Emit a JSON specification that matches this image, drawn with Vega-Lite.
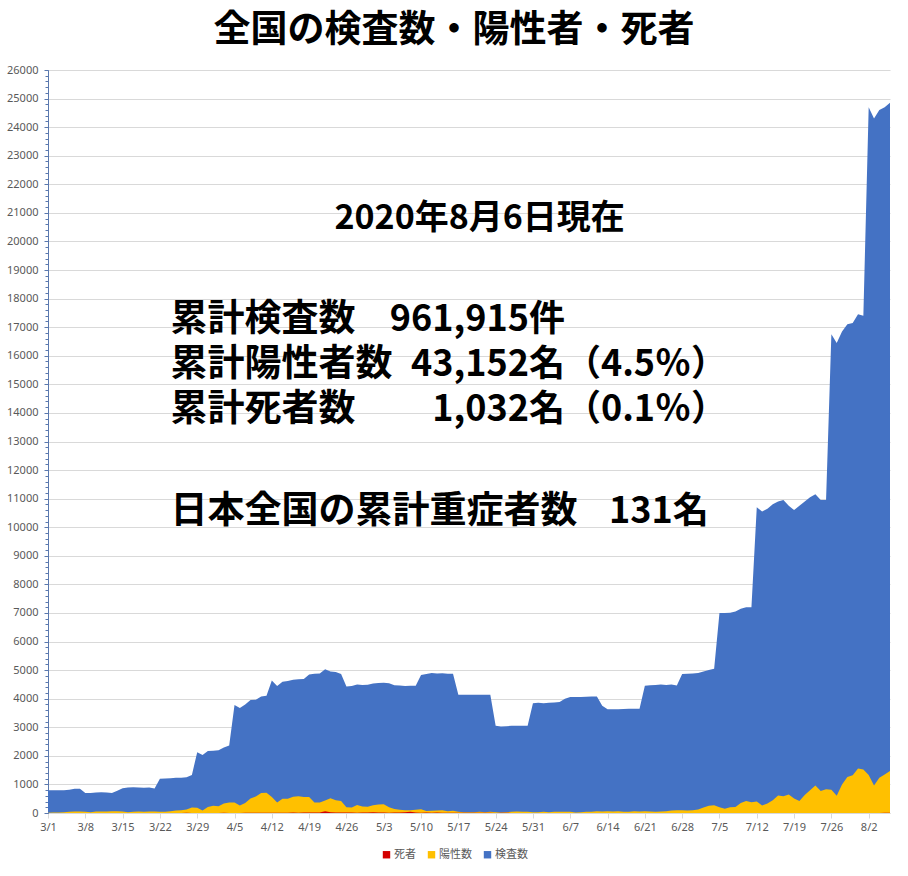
{
  "$schema": "https://vega.github.io/schema/vega-lite/v6.json",
  "width": 842,
  "height": 743,
  "autosize": {"type": "none"},
  "padding": {"left": 48, "top": 70, "right": 18, "bottom": 63},
  "background": "white",
  "title": {"text": "全国の検査数・陽性者・死者", "font": "Noto Sans CJK JP", "fontSize": 37, "fontWeight": "bold", "color": "#000000", "anchor": "middle", "offset": 14, "dx": -15},
  "config": {"view": {"stroke": null}, "axisX": {"labelOverlap": false, "labelFlush": false}},
  "datasets": {
    "daily": [
    {"date":"2020-03-01","tests":800,"positive":10,"deaths":0},
    {"date":"2020-03-02","tests":800,"positive":15,"deaths":0},
    {"date":"2020-03-03","tests":800,"positive":20,"deaths":1},
    {"date":"2020-03-04","tests":800,"positive":30,"deaths":0},
    {"date":"2020-03-05","tests":810,"positive":40,"deaths":1},
    {"date":"2020-03-06","tests":850,"positive":55,"deaths":1},
    {"date":"2020-03-07","tests":850,"positive":50,"deaths":0},
    {"date":"2020-03-08","tests":700,"positive":40,"deaths":1},
    {"date":"2020-03-09","tests":700,"positive":30,"deaths":2},
    {"date":"2020-03-10","tests":720,"positive":50,"deaths":1},
    {"date":"2020-03-11","tests":730,"positive":55,"deaths":2},
    {"date":"2020-03-12","tests":720,"positive":55,"deaths":1},
    {"date":"2020-03-13","tests":700,"positive":60,"deaths":1},
    {"date":"2020-03-14","tests":780,"positive":60,"deaths":2},
    {"date":"2020-03-15","tests":870,"positive":55,"deaths":0},
    {"date":"2020-03-16","tests":890,"positive":30,"deaths":1},
    {"date":"2020-03-17","tests":900,"positive":40,"deaths":2},
    {"date":"2020-03-18","tests":890,"positive":50,"deaths":1},
    {"date":"2020-03-19","tests":880,"positive":45,"deaths":1},
    {"date":"2020-03-20","tests":890,"positive":50,"deaths":1},
    {"date":"2020-03-21","tests":860,"positive":55,"deaths":1},
    {"date":"2020-03-22","tests":1200,"positive":40,"deaths":2},
    {"date":"2020-03-23","tests":1210,"positive":40,"deaths":1},
    {"date":"2020-03-24","tests":1220,"positive":60,"deaths":2},
    {"date":"2020-03-25","tests":1230,"positive":90,"deaths":3},
    {"date":"2020-03-26","tests":1230,"positive":100,"deaths":2},
    {"date":"2020-03-27","tests":1250,"positive":120,"deaths":5},
    {"date":"2020-03-28","tests":1330,"positive":190,"deaths":2},
    {"date":"2020-03-29","tests":2130,"positive":180,"deaths":2},
    {"date":"2020-03-30","tests":2030,"positive":90,"deaths":3},
    {"date":"2020-03-31","tests":2170,"positive":210,"deaths":3},
    {"date":"2020-04-01","tests":2180,"positive":250,"deaths":3},
    {"date":"2020-04-02","tests":2200,"positive":240,"deaths":2},
    {"date":"2020-04-03","tests":2290,"positive":330,"deaths":5},
    {"date":"2020-04-04","tests":2360,"positive":370,"deaths":3},
    {"date":"2020-04-05","tests":3780,"positive":370,"deaths":2},
    {"date":"2020-04-06","tests":3670,"positive":260,"deaths":4},
    {"date":"2020-04-07","tests":3800,"positive":350,"deaths":8},
    {"date":"2020-04-08","tests":3950,"positive":510,"deaths":6},
    {"date":"2020-04-09","tests":3960,"positive":580,"deaths":7},
    {"date":"2020-04-10","tests":4080,"positive":700,"deaths":11},
    {"date":"2020-04-11","tests":4100,"positive":710,"deaths":8},
    {"date":"2020-04-12","tests":4640,"positive":560,"deaths":5},
    {"date":"2020-04-13","tests":4440,"positive":370,"deaths":8},
    {"date":"2020-04-14","tests":4590,"positive":500,"deaths":9},
    {"date":"2020-04-15","tests":4620,"positive":500,"deaths":12},
    {"date":"2020-04-16","tests":4660,"positive":570,"deaths":14},
    {"date":"2020-04-17","tests":4680,"positive":590,"deaths":12},
    {"date":"2020-04-18","tests":4690,"positive":560,"deaths":17},
    {"date":"2020-04-19","tests":4850,"positive":560,"deaths":14},
    {"date":"2020-04-20","tests":4870,"positive":370,"deaths":20},
    {"date":"2020-04-21","tests":4880,"positive":370,"deaths":20},
    {"date":"2020-04-22","tests":5030,"positive":440,"deaths":60},
    {"date":"2020-04-23","tests":4950,"positive":520,"deaths":30},
    {"date":"2020-04-24","tests":4930,"positive":450,"deaths":20},
    {"date":"2020-04-25","tests":4860,"positive":420,"deaths":15},
    {"date":"2020-04-26","tests":4430,"positive":200,"deaths":15},
    {"date":"2020-04-27","tests":4440,"positive":190,"deaths":14},
    {"date":"2020-04-28","tests":4500,"positive":280,"deaths":12},
    {"date":"2020-04-29","tests":4480,"positive":230,"deaths":20},
    {"date":"2020-04-30","tests":4490,"positive":220,"deaths":17},
    {"date":"2020-05-01","tests":4530,"positive":270,"deaths":25},
    {"date":"2020-05-02","tests":4550,"positive":300,"deaths":20},
    {"date":"2020-05-03","tests":4560,"positive":310,"deaths":15},
    {"date":"2020-05-04","tests":4540,"positive":200,"deaths":12},
    {"date":"2020-05-05","tests":4470,"positive":140,"deaths":15},
    {"date":"2020-05-06","tests":4460,"positive":110,"deaths":20},
    {"date":"2020-05-07","tests":4440,"positive":100,"deaths":30},
    {"date":"2020-05-08","tests":4450,"positive":100,"deaths":40},
    {"date":"2020-05-09","tests":4450,"positive":110,"deaths":15},
    {"date":"2020-05-10","tests":4830,"positive":130,"deaths":10},
    {"date":"2020-05-11","tests":4860,"positive":70,"deaths":20},
    {"date":"2020-05-12","tests":4900,"positive":80,"deaths":12},
    {"date":"2020-05-13","tests":4880,"positive":90,"deaths":15},
    {"date":"2020-05-14","tests":4890,"positive":100,"deaths":10},
    {"date":"2020-05-15","tests":4870,"positive":60,"deaths":12},
    {"date":"2020-05-16","tests":4870,"positive":80,"deaths":5},
    {"date":"2020-05-17","tests":4140,"positive":40,"deaths":6},
    {"date":"2020-05-18","tests":4140,"positive":30,"deaths":5},
    {"date":"2020-05-19","tests":4140,"positive":30,"deaths":10},
    {"date":"2020-05-20","tests":4140,"positive":30,"deaths":10},
    {"date":"2020-05-21","tests":4140,"positive":40,"deaths":8},
    {"date":"2020-05-22","tests":4140,"positive":30,"deaths":5},
    {"date":"2020-05-23","tests":4140,"positive":40,"deaths":8},
    {"date":"2020-05-24","tests":3050,"positive":25,"deaths":3},
    {"date":"2020-05-25","tests":3030,"positive":20,"deaths":5},
    {"date":"2020-05-26","tests":3040,"positive":30,"deaths":6},
    {"date":"2020-05-27","tests":3050,"positive":40,"deaths":4},
    {"date":"2020-05-28","tests":3050,"positive":50,"deaths":4},
    {"date":"2020-05-29","tests":3050,"positive":40,"deaths":3},
    {"date":"2020-05-30","tests":3050,"positive":40,"deaths":2},
    {"date":"2020-05-31","tests":3840,"positive":30,"deaths":2},
    {"date":"2020-06-01","tests":3860,"positive":30,"deaths":2},
    {"date":"2020-06-02","tests":3840,"positive":40,"deaths":4},
    {"date":"2020-06-03","tests":3860,"positive":30,"deaths":3},
    {"date":"2020-06-04","tests":3870,"positive":40,"deaths":2},
    {"date":"2020-06-05","tests":3880,"positive":40,"deaths":3},
    {"date":"2020-06-06","tests":4000,"positive":40,"deaths":2},
    {"date":"2020-06-07","tests":4060,"positive":45,"deaths":1},
    {"date":"2020-06-08","tests":4060,"positive":20,"deaths":1},
    {"date":"2020-06-09","tests":4060,"positive":30,"deaths":2},
    {"date":"2020-06-10","tests":4070,"positive":40,"deaths":1},
    {"date":"2020-06-11","tests":4080,"positive":40,"deaths":1},
    {"date":"2020-06-12","tests":4080,"positive":60,"deaths":2},
    {"date":"2020-06-13","tests":3750,"positive":50,"deaths":1},
    {"date":"2020-06-14","tests":3630,"positive":60,"deaths":1},
    {"date":"2020-06-15","tests":3630,"positive":50,"deaths":1},
    {"date":"2020-06-16","tests":3630,"positive":60,"deaths":1},
    {"date":"2020-06-17","tests":3640,"positive":40,"deaths":1},
    {"date":"2020-06-18","tests":3650,"positive":40,"deaths":1},
    {"date":"2020-06-19","tests":3650,"positive":60,"deaths":1},
    {"date":"2020-06-20","tests":3650,"positive":50,"deaths":1},
    {"date":"2020-06-21","tests":4450,"positive":60,"deaths":1},
    {"date":"2020-06-22","tests":4470,"positive":50,"deaths":1},
    {"date":"2020-06-23","tests":4480,"positive":40,"deaths":1},
    {"date":"2020-06-24","tests":4500,"positive":50,"deaths":1},
    {"date":"2020-06-25","tests":4480,"positive":60,"deaths":1},
    {"date":"2020-06-26","tests":4500,"positive":90,"deaths":1},
    {"date":"2020-06-27","tests":4460,"positive":100,"deaths":1},
    {"date":"2020-06-28","tests":4860,"positive":100,"deaths":1},
    {"date":"2020-06-29","tests":4870,"positive":90,"deaths":1},
    {"date":"2020-06-30","tests":4880,"positive":100,"deaths":1},
    {"date":"2020-07-01","tests":4900,"positive":120,"deaths":1},
    {"date":"2020-07-02","tests":4950,"positive":190,"deaths":0},
    {"date":"2020-07-03","tests":5000,"positive":250,"deaths":1},
    {"date":"2020-07-04","tests":5050,"positive":270,"deaths":1},
    {"date":"2020-07-05","tests":7000,"positive":200,"deaths":0},
    {"date":"2020-07-06","tests":7000,"positive":150,"deaths":0},
    {"date":"2020-07-07","tests":7010,"positive":200,"deaths":1},
    {"date":"2020-07-08","tests":7050,"positive":210,"deaths":0},
    {"date":"2020-07-09","tests":7150,"positive":350,"deaths":1},
    {"date":"2020-07-10","tests":7200,"positive":420,"deaths":0},
    {"date":"2020-07-11","tests":7200,"positive":380,"deaths":1},
    {"date":"2020-07-12","tests":10700,"positive":400,"deaths":1},
    {"date":"2020-07-13","tests":10550,"positive":260,"deaths":1},
    {"date":"2020-07-14","tests":10650,"positive":330,"deaths":1},
    {"date":"2020-07-15","tests":10800,"positive":450,"deaths":1},
    {"date":"2020-07-16","tests":10900,"positive":610,"deaths":2},
    {"date":"2020-07-17","tests":10950,"positive":590,"deaths":1},
    {"date":"2020-07-18","tests":10750,"positive":650,"deaths":2},
    {"date":"2020-07-19","tests":10600,"positive":510,"deaths":1},
    {"date":"2020-07-20","tests":10750,"positive":420,"deaths":1},
    {"date":"2020-07-21","tests":10900,"positive":630,"deaths":2},
    {"date":"2020-07-22","tests":11050,"positive":800,"deaths":2},
    {"date":"2020-07-23","tests":11150,"positive":960,"deaths":3},
    {"date":"2020-07-24","tests":10950,"positive":770,"deaths":2},
    {"date":"2020-07-25","tests":10950,"positive":830,"deaths":3},
    {"date":"2020-07-26","tests":16750,"positive":810,"deaths":2},
    {"date":"2020-07-27","tests":16450,"positive":600,"deaths":2},
    {"date":"2020-07-28","tests":16850,"positive":1000,"deaths":3},
    {"date":"2020-07-29","tests":17100,"positive":1260,"deaths":3},
    {"date":"2020-07-30","tests":17150,"positive":1320,"deaths":2},
    {"date":"2020-07-31","tests":17450,"positive":1560,"deaths":3},
    {"date":"2020-08-01","tests":17400,"positive":1520,"deaths":4},
    {"date":"2020-08-02","tests":24700,"positive":1330,"deaths":3},
    {"date":"2020-08-03","tests":24300,"positive":960,"deaths":4},
    {"date":"2020-08-04","tests":24600,"positive":1230,"deaths":4},
    {"date":"2020-08-05","tests":24700,"positive":1350,"deaths":5},
    {"date":"2020-08-06","tests":24850,"positive":1470,"deaths":6}
    ],
    "one": [{"n": 1}]
  },
  "resolve": {"axis": {"x": "independent", "y": "independent"}},
  "layer": [
    {
      "data": {"name": "daily"},
      "mark": {"type": "area", "interpolate": "linear"},
      "encoding": {
        "x": {
          "field": "date", "type": "temporal", "title": null,
          "scale": {"type": "utc", "nice": false, "domain": [{"year": 2020, "month": 3, "date": 1, "utc": true}, {"year": 2020, "month": 8, "date": 6, "utc": true}]},
          "axis": {
            "orient": "bottom",
            "values": [
              {"year": 2020, "month": 3, "date": 1, "utc": true}, {"year": 2020, "month": 3, "date": 8, "utc": true},
              {"year": 2020, "month": 3, "date": 15, "utc": true}, {"year": 2020, "month": 3, "date": 22, "utc": true},
              {"year": 2020, "month": 3, "date": 29, "utc": true}, {"year": 2020, "month": 4, "date": 5, "utc": true},
              {"year": 2020, "month": 4, "date": 12, "utc": true}, {"year": 2020, "month": 4, "date": 19, "utc": true},
              {"year": 2020, "month": 4, "date": 26, "utc": true}, {"year": 2020, "month": 5, "date": 3, "utc": true},
              {"year": 2020, "month": 5, "date": 10, "utc": true}, {"year": 2020, "month": 5, "date": 17, "utc": true},
              {"year": 2020, "month": 5, "date": 24, "utc": true}, {"year": 2020, "month": 5, "date": 31, "utc": true},
              {"year": 2020, "month": 6, "date": 7, "utc": true}, {"year": 2020, "month": 6, "date": 14, "utc": true},
              {"year": 2020, "month": 6, "date": 21, "utc": true}, {"year": 2020, "month": 6, "date": 28, "utc": true},
              {"year": 2020, "month": 7, "date": 5, "utc": true}, {"year": 2020, "month": 7, "date": 12, "utc": true},
              {"year": 2020, "month": 7, "date": 19, "utc": true}, {"year": 2020, "month": 7, "date": 26, "utc": true},
              {"year": 2020, "month": 8, "date": 2, "utc": true}
            ],
            "format": "%-m/%-d", "grid": false, "domainColor": "#D9D9D9", "tickColor": "#D9D9D9", "tickSize": 5,
            "labelFont": "Noto Sans", "labelFontSize": 11, "labelColor": "#595959", "labelPadding": 3, "labelAngle": 0, "labelOverlap": false, "labelFlush": false
          }
        },
        "y": {
          "field": "tests", "type": "quantitative", "stack": null, "title": null,
          "scale": {"domain": [0, 26000], "nice": false, "zero": true},
          "axis": {
            "orient": "left",
            "values": [0,1000,2000,3000,4000,5000,6000,7000,8000,9000,10000,11000,12000,13000,14000,15000,16000,17000,18000,19000,20000,21000,22000,23000,24000,25000,26000],
            "format": "d", "grid": true, "gridColor": "#D9D9D9", "gridWidth": 1,
            "domainColor": "#5A78AE", "tickColor": "#5A78AE", "tickSize": 4, "labelPadding": 6,
            "labelFont": "Noto Sans", "labelFontSize": 11, "labelColor": "#595959"
          }
        },
        "color": {
          "datum": "検査数", "type": "nominal",
          "scale": {"domain": ["死者", "陽性数", "検査数"], "range": ["#D40000", "#FFC000", "#4472C4"]},
          "legend": {
            "orient": "none", "legendX": 333, "legendY": 779, "direction": "horizontal", "title": null,
            "symbolType": "square", "symbolSize": 55, "symbolStrokeWidth": 0,
            "labelFont": "Noto Sans CJK JP", "labelFontSize": 11, "labelColor": "#595959", "columnPadding": 10, "labelOffset": 2
          }
        }
      }
    },
    {
      "data": {"name": "daily"},
      "mark": {"type": "area", "interpolate": "linear"},
      "encoding": {
        "x": {"field": "date", "type": "temporal", "axis": null},
        "y": {"field": "positive", "type": "quantitative", "stack": null, "title": null, "axis": null},
        "color": {"datum": "陽性数", "type": "nominal"}
      }
    },
    {
      "data": {"name": "daily"},
      "mark": {"type": "area", "interpolate": "linear"},
      "encoding": {
        "x": {"field": "date", "type": "temporal", "axis": null},
        "y": {
          "field": "deaths", "type": "quantitative", "stack": null, "title": null,
          "axis": {"orient": "left", "tickCount": 130, "labels": false, "grid": false, "domain": false, "ticks": true, "tickSize": 3, "tickColor": "#5A78AE"}
        },
        "color": {"datum": "死者", "type": "nominal"}
      }
    },
    {
      "data": {"name": "one"},
      "mark": {"type": "text", "text": "2020年8月6日現在", "align": "center", "baseline": "middle", "font": "Noto Sans CJK JP", "fontWeight": "bold", "fontSize": 34, "fill": "#000000"},
      "encoding": {
        "x": {"datum": {"year": 2020, "month": 5, "date": 21, "utc": true}, "type": "temporal", "axis": null},
        "y": {"datum": 20790, "type": "quantitative", "axis": null}
      }
    },
    {
      "data": {"name": "one"},
      "mark": {"type": "text", "text": "累計検査数", "align": "left", "baseline": "middle", "font": "Noto Sans CJK JP", "fontWeight": "bold", "fontSize": 37, "fill": "#000000"},
      "encoding": {
        "x": {"datum": {"year": 2020, "month": 3, "date": 24, "utc": true}, "type": "temporal", "axis": null},
        "y": {"datum": 17250, "type": "quantitative", "axis": null}
      }
    },
    {
      "data": {"name": "one"},
      "mark": {"type": "text", "text": "累計陽性者数", "align": "left", "baseline": "middle", "font": "Noto Sans CJK JP", "fontWeight": "bold", "fontSize": 37, "fill": "#000000"},
      "encoding": {
        "x": {"datum": {"year": 2020, "month": 3, "date": 24, "utc": true}, "type": "temporal", "axis": null},
        "y": {"datum": 15680, "type": "quantitative", "axis": null}
      }
    },
    {
      "data": {"name": "one"},
      "mark": {"type": "text", "text": "累計死者数", "align": "left", "baseline": "middle", "font": "Noto Sans CJK JP", "fontWeight": "bold", "fontSize": 37, "fill": "#000000"},
      "encoding": {
        "x": {"datum": {"year": 2020, "month": 3, "date": 24, "utc": true}, "type": "temporal", "axis": null},
        "y": {"datum": 14100, "type": "quantitative", "axis": null}
      }
    },
    {
      "data": {"name": "one"},
      "mark": {"type": "text", "text": "日本全国の累計重症者数", "align": "left", "baseline": "middle", "font": "Noto Sans CJK JP", "fontWeight": "bold", "fontSize": 37, "fill": "#000000"},
      "encoding": {
        "x": {"datum": {"year": 2020, "month": 3, "date": 24, "utc": true}, "type": "temporal", "axis": null},
        "y": {"datum": 10530, "type": "quantitative", "axis": null}
      }
    },
    {
      "data": {"name": "one"},
      "mark": {"type": "text", "text": "961,915件", "align": "right", "baseline": "middle", "font": "Noto Sans CJK JP", "fontWeight": "bold", "fontSize": 36, "fill": "#000000"},
      "encoding": {
        "x": {"datum": {"year": 2020, "month": 6, "date": 6, "utc": true}, "type": "temporal", "axis": null},
        "y": {"datum": 17250, "type": "quantitative", "axis": null}
      }
    },
    {
      "data": {"name": "one"},
      "mark": {"type": "text", "text": "43,152名", "align": "right", "baseline": "middle", "font": "Noto Sans CJK JP", "fontWeight": "bold", "fontSize": 36, "fill": "#000000"},
      "encoding": {
        "x": {"datum": {"year": 2020, "month": 6, "date": 6, "utc": true}, "type": "temporal", "axis": null},
        "y": {"datum": 15680, "type": "quantitative", "axis": null}
      }
    },
    {
      "data": {"name": "one"},
      "mark": {"type": "text", "text": "1,032名", "align": "right", "baseline": "middle", "font": "Noto Sans CJK JP", "fontWeight": "bold", "fontSize": 36, "fill": "#000000"},
      "encoding": {
        "x": {"datum": {"year": 2020, "month": 6, "date": 6, "utc": true}, "type": "temporal", "axis": null},
        "y": {"datum": 14100, "type": "quantitative", "axis": null}
      }
    },
    {
      "data": {"name": "one"},
      "mark": {"type": "text", "text": "（4.5％）", "align": "left", "baseline": "middle", "font": "Noto Sans CJK JP", "fontWeight": "bold", "fontSize": 36, "fill": "#000000"},
      "encoding": {
        "x": {"datum": {"year": 2020, "month": 6, "date": 6, "utc": true}, "type": "temporal", "axis": null},
        "y": {"datum": 15680, "type": "quantitative", "axis": null}
      }
    },
    {
      "data": {"name": "one"},
      "mark": {"type": "text", "text": "（0.1％）", "align": "left", "baseline": "middle", "font": "Noto Sans CJK JP", "fontWeight": "bold", "fontSize": 36, "fill": "#000000"},
      "encoding": {
        "x": {"datum": {"year": 2020, "month": 6, "date": 6, "utc": true}, "type": "temporal", "axis": null},
        "y": {"datum": 14100, "type": "quantitative", "axis": null}
      }
    },
    {
      "data": {"name": "one"},
      "mark": {"type": "text", "text": "131名", "align": "right", "baseline": "middle", "font": "Noto Sans CJK JP", "fontWeight": "bold", "fontSize": 36, "fill": "#000000"},
      "encoding": {
        "x": {"datum": {"year": 2020, "month": 7, "date": 3, "utc": true}, "type": "temporal", "axis": null},
        "y": {"datum": 10530, "type": "quantitative", "axis": null}
      }
    }
  ]
}
